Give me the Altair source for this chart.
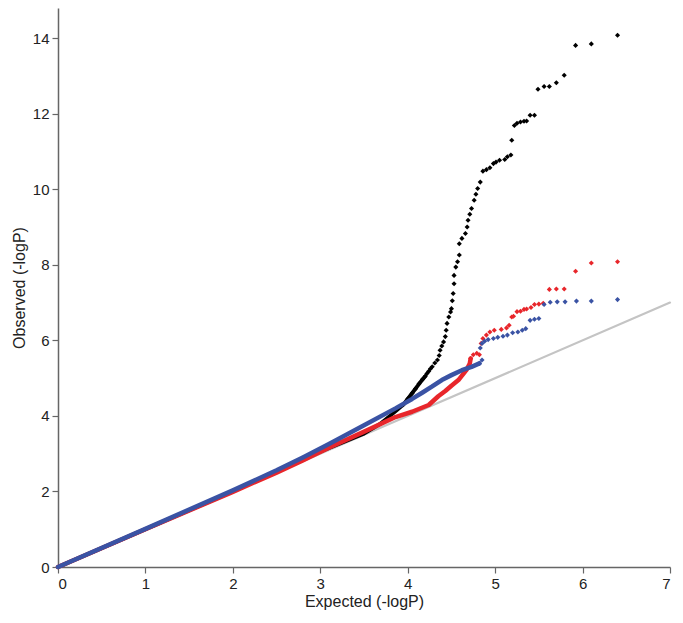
import altair as alt
import pandas as pd

# ---- data ----
diag_x = [0, 7]
diag_y = [0, 7]

black_line_x = [0, 1, 2, 2.7, 3.1, 3.49, 3.68, 3.86, 3.95, 4.05, 4.13, 4.2]
black_line_y = [0, 1.0, 2.0, 2.76, 3.15, 3.52, 3.78, 4.12, 4.3, 4.6, 4.85, 5.05]
black_pts_x = [3.95, 4.0, 4.05, 4.09, 4.13, 4.17, 4.2, 4.22, 4.24, 4.26, 4.28, 4.31, 4.34, 4.36, 4.37,
               4.39, 4.41, 4.43, 4.44, 4.45, 4.47, 4.49, 4.5, 4.51, 4.52, 4.53, 4.53, 4.55,
               4.57, 4.59, 4.59, 4.62, 4.66, 4.68, 4.69, 4.71, 4.73, 4.76, 4.78, 4.8, 4.83,
               4.86, 4.9, 4.94, 4.98, 5.01, 5.05, 5.11, 5.14, 5.18, 5.19, 5.22, 5.25, 5.29,
               5.33, 5.36, 5.4, 5.45, 5.49, 5.56, 5.62, 5.7, 5.79, 5.92, 6.1, 6.4]
black_pts_y = [4.3, 4.45, 4.6, 4.72, 4.85, 4.97, 5.05, 5.12, 5.18, 5.25, 5.3, 5.4, 5.48, 5.6, 5.74,
               5.85, 5.96, 6.1, 6.27, 6.45, 6.62, 6.75, 6.84, 7.05, 7.24, 7.5, 7.72, 7.94,
               8.08, 8.26, 8.56, 8.7, 8.83, 9.0, 9.18, 9.34, 9.49, 9.71, 9.87, 10.02, 10.19,
               10.48, 10.52, 10.57, 10.68, 10.72, 10.77, 10.79, 10.86, 10.91, 11.3, 11.69, 11.75, 11.78,
               11.8, 11.81, 11.96, 11.96, 12.65, 12.72, 12.72, 12.82, 13.02, 13.81, 13.85, 14.08]

red_line_x = [0, 1, 2, 2.5, 2.8, 3.11, 3.49, 3.86, 4.05, 4.24, 4.35, 4.43, 4.5, 4.58, 4.67, 4.71, 4.72]
red_line_y = [0, 1.0, 1.99, 2.5, 2.82, 3.17, 3.57, 3.97, 4.11, 4.29, 4.52, 4.66, 4.8, 4.95, 5.21, 5.39, 5.52]
red_pts_x = [4.72, 4.75, 4.79, 4.82, 4.84, 4.86, 4.9, 4.94, 4.99, 5.07, 5.13, 5.16, 5.19, 5.21,
             5.25, 5.29, 5.33, 5.36, 5.41, 5.45, 5.5, 5.55, 5.62, 5.7, 5.79, 5.92, 6.1, 6.4]
red_pts_y = [5.52, 5.62, 5.66, 5.62, 5.92, 6.05, 6.14, 6.22, 6.27, 6.29, 6.33, 6.4, 6.62, 6.64,
             6.76, 6.77, 6.82, 6.83, 6.87, 6.95, 6.96, 6.98, 7.35, 7.36, 7.36, 7.83, 8.05, 8.08]

blue_line_x = [0, 1, 2, 2.5, 2.8, 3.11, 3.49, 3.86, 4.05, 4.17, 4.28, 4.39, 4.5, 4.62, 4.73, 4.82]
blue_line_y = [0, 1.01, 2.03, 2.56, 2.9, 3.27, 3.74, 4.2, 4.45, 4.62, 4.78, 4.95, 5.08, 5.21, 5.3, 5.39]
blue_pts_x = [4.82, 4.85, 4.83, 4.85, 4.88, 4.92, 4.98, 5.03, 5.09, 5.14, 5.2, 5.26, 5.31, 5.35,
              5.4, 5.45, 5.5, 5.56, 5.63, 5.71, 5.8, 5.93, 6.1, 6.4]
blue_pts_y = [5.39, 5.48, 5.8, 5.92, 5.98, 6.02, 6.05, 6.08, 6.11, 6.14, 6.2, 6.22, 6.27, 6.31,
              6.53, 6.56, 6.58, 6.95, 7.01, 7.02, 7.02, 7.04, 7.04, 7.08]

BLACK = "#000000"
RED = "#e8262b"
BLUE = "#3a53a4"
GREY = "#c4c4c4"

xscale = alt.Scale(domain=[0, 7], nice=False, zero=False)
yscale = alt.Scale(domain=[0, 14.8], nice=False, zero=False)
xaxis = alt.Axis(values=list(range(0, 8)), title="Expected (-logP)", grid=False)
yaxis = alt.Axis(values=list(range(0, 15, 2)), title="Observed (-logP)", grid=False)


def enc(ch):
    return ch.encode(
        x=alt.X("x:Q", scale=xscale, axis=xaxis),
        y=alt.Y("y:Q", scale=yscale, axis=yaxis),
        order=alt.Order("i:Q"),
    )


def frame(xs, ys):
    return pd.DataFrame({"x": xs, "y": ys, "i": list(range(len(xs)))})


def line(xs, ys, color, w):
    return enc(alt.Chart(frame(xs, ys)).mark_line(
        color=color, strokeWidth=w, strokeCap="round", strokeJoin="round"))


def pts(xs, ys, color):
    return enc(alt.Chart(frame(xs, ys)).mark_point(
        shape="diamond", filled=True, size=26, color=color, opacity=1))


chart = alt.layer(
    line(diag_x, diag_y, GREY, 2.2),
    line(black_line_x, black_line_y, BLACK, 3.8),
    pts(black_pts_x, black_pts_y, BLACK),
    line(red_line_x, red_line_y, RED, 4.5),
    pts(red_pts_x, red_pts_y, RED),
    line(blue_line_x, blue_line_y, BLUE, 4.5),
    pts(blue_pts_x, blue_pts_y, BLUE),
).properties(
    width=612,
    height=559,
    autosize=alt.AutoSizeParams(type="none"),
    padding={"left": 50, "top": 0, "right": 5, "bottom": 47},
).configure_view(
    stroke=None
).configure_axis(
    domainColor="#666666",
    domainWidth=1.5,
    tickColor="#666666",
    tickWidth=1.2,
    tickSize=6,
    labelFont="Liberation Sans",
    labelFontSize=15,
    labelColor="#222222",
    labelPadding=3,
    titleFont="Liberation Sans",
    titleFontSize=16,
    titleFontWeight="normal",
    titleColor="#222222",
).configure_axisY(
    titlePadding=5,
).configure_axisX(
    titlePadding=2,
)

chart.save("out.html", embed_options={"renderer": "svg", "actions": False})
